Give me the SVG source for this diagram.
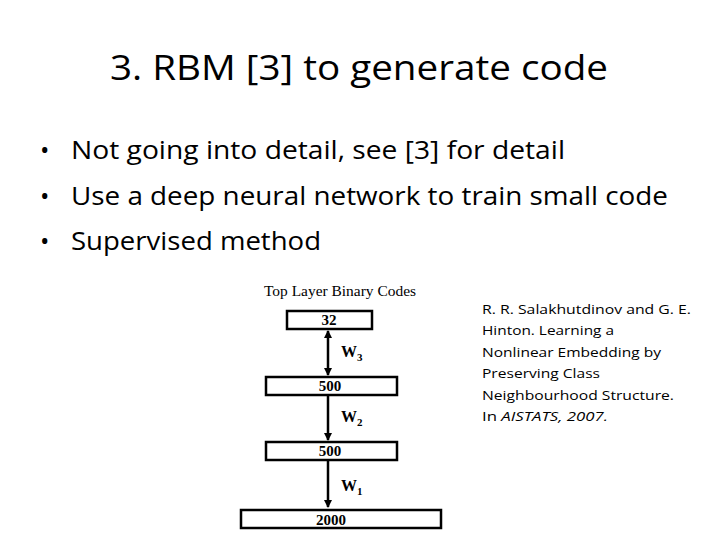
<svg xmlns="http://www.w3.org/2000/svg" width="720" height="540" viewBox="0 0 720 540">
<style>
.b{fill:#fff;stroke:#000;stroke-width:2.5}
.n{font-family:"Liberation Serif",serif;font-weight:bold;font-size:15px;text-anchor:middle}
.w{font-family:"Liberation Serif",serif;font-weight:bold;font-size:16px}
.s{font-size:11px}
.c{stroke:#000;stroke-width:2.5;fill:none}
.t{font-family:"Open Sans","Liberation Sans",sans-serif}
</style>
<defs><marker id="a" markerWidth="8" markerHeight="8" refX="7" refY="4" orient="auto-start-reverse" markerUnits="userSpaceOnUse"><path d="M0,0L8,4L0,8z"/></marker></defs>
<rect width="720" height="540" fill="#fff"/>
<text class="t" x="110" y="80" font-size="34" textLength="498" lengthAdjust="spacingAndGlyphs">3. RBM [3] to generate code</text>
<g class="t" font-size="25">
<text x="40" y="159">•</text><text x="71" y="159" textLength="494" lengthAdjust="spacingAndGlyphs">Not going into detail, see [3] for detail</text>
<text x="40" y="205">•</text><text x="71" y="205" textLength="597" lengthAdjust="spacingAndGlyphs">Use a deep neural network to train small code</text>
<text x="40" y="250">•</text><text x="71" y="250" textLength="250" lengthAdjust="spacingAndGlyphs">Supervised method</text>
</g>
<text x="264" y="296" font-family="Liberation Serif,serif" font-size="14" textLength="152" lengthAdjust="spacingAndGlyphs">Top Layer Binary Codes</text>
<g id="connectors">
<line class="c" x1="328" y1="331" x2="328" y2="375" marker-start="url(#a)" marker-end="url(#a)"/>
<line class="c" x1="328" y1="396" x2="328" y2="440" marker-end="url(#a)"/>
<line class="c" x1="328" y1="461" x2="328" y2="507" marker-end="url(#a)"/>
</g>
<text class="w" x="341" y="357">W<tspan class="s" dy="4">3</tspan></text>
<text class="w" x="341" y="422">W<tspan class="s" dy="4">2</tspan></text>
<text class="w" x="341" y="491">W<tspan class="s" dy="4">1</tspan></text>
<g id="n32"><rect class="b" x="287" y="311" width="85" height="18"/><text class="n" x="329" y="325">32</text></g>
<g id="n500a"><rect class="b" x="266" y="377" width="131" height="18"/><text class="n" x="330" y="391">500</text></g>
<g id="n500b"><rect class="b" x="266" y="442" width="131" height="18"/><text class="n" x="330" y="456">500</text></g>
<g id="n2000"><rect class="b" x="241" y="510" width="200" height="18"/><text class="n" x="331" y="525">2000</text></g>
<g class="t" font-size="13.5">
<text x="482" y="314" textLength="209" lengthAdjust="spacingAndGlyphs">R. R. Salakhutdinov and G. E.</text>
<text x="482" y="335" textLength="132" lengthAdjust="spacingAndGlyphs">Hinton. Learning a</text>
<text x="482" y="357" textLength="179" lengthAdjust="spacingAndGlyphs">Nonlinear Embedding by</text>
<text x="482" y="378" textLength="118" lengthAdjust="spacingAndGlyphs">Preserving Class</text>
<text x="482" y="400" textLength="192" lengthAdjust="spacingAndGlyphs">Neighbourhood Structure.</text>
<text x="482" y="421" textLength="126" lengthAdjust="spacingAndGlyphs">In <tspan font-style="italic">AISTATS, 2007.</tspan></text>
</g>
</svg>
